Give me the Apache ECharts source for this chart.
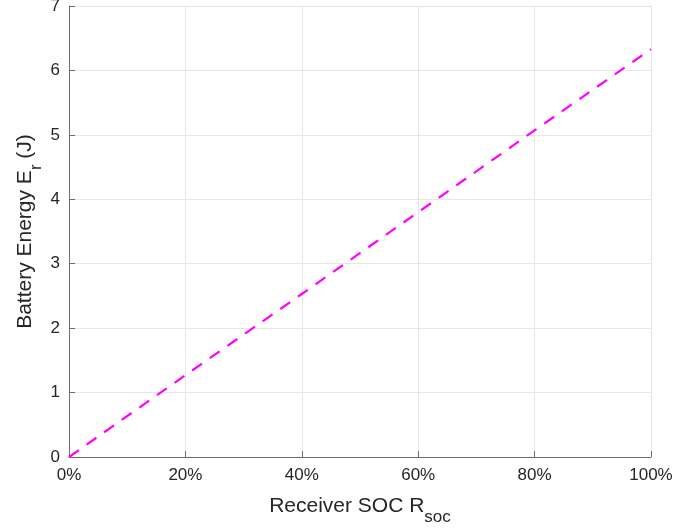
<!DOCTYPE html>
<html>
<head>
<meta charset="utf-8">
<script src="https://cdn.jsdelivr.net/npm/echarts@6/dist/echarts.min.js"></script>
<style>
html,body{margin:0;padding:0;background:#fff;}
#chart{width:673px;height:531px;}
</style>
</head>
<body>
<div id="chart"></div>
<script>
// Data
const socPercent = [0, 20, 40, 60, 80, 100];
const energyJ = [0, 1.27, 2.53, 3.80, 5.07, 6.33];
const xTicks = [0, 20, 40, 60, 80, 100];
const yTicks = [0, 1, 2, 3, 4, 5, 6, 7];

const FONT = "'Liberation Sans', Arial, Helvetica, sans-serif";
const TXT = '#262626';
const AXIS = '#6e6e6e';
const GRID = '#e6e6e6';

const richName = {
  n: {fontSize: 21, lineHeight: 24, color: TXT, fontFamily: FONT},
  s: {fontSize: 17, lineHeight: 17, padding: [22, 0, 0, 0], color: TXT, fontFamily: FONT}
};

const chart = echarts.init(document.getElementById('chart'), null, {renderer: 'canvas'});
chart.setOption({
  animation: false,
  backgroundColor: '#fff',
  grid: {left: 69, right: 22, top: 6, bottom: 74, containLabel: false, outerBoundsMode: 'none'},
  xAxis: {
    type: 'value',
    min: xTicks[0], max: xTicks[xTicks.length - 1], interval: 20,
    axisLine: {show: true, onZero: false, lineStyle: {color: AXIS, width: 1}},
    axisTick: {show: true, inside: true, length: 6, lineStyle: {color: AXIS}},
    splitLine: {show: true, lineStyle: {color: GRID, width: 1}},
    axisLabel: {formatter: '{value}%', color: TXT, fontSize: 17, fontFamily: FONT, margin: 10},
    name: '{n|Receiver SOC R}{s|soc}',
    nameLocation: 'middle',
    nameGap: 37,
    nameMoveOverlap: false,
    nameTextStyle: {color: TXT, fontFamily: FONT, rich: richName}
  },
  yAxis: {
    type: 'value',
    min: yTicks[0], max: yTicks[yTicks.length - 1], interval: 1,
    axisLine: {show: true, onZero: false, lineStyle: {color: AXIS, width: 1}},
    axisTick: {show: true, inside: true, length: 6, lineStyle: {color: AXIS}},
    splitLine: {show: true, lineStyle: {color: GRID, width: 1}},
    axisLabel: {color: TXT, fontSize: 17, fontFamily: FONT, margin: 9},
    name: '{n|Battery Energy E}{s|r}{n| (J)}',
    nameLocation: 'middle',
    nameGap: 32,
    nameMoveOverlap: false,
    nameTextStyle: {color: TXT, fontFamily: FONT, rich: richName}
  },
  series: [{
    type: 'line',
    data: socPercent.map((x, i) => [x, energyJ[i]]),
    showSymbol: false,
    symbol: 'none',
    lineStyle: {color: '#ff00ff', width: 2.2, type: [12, 9.5]}
  }]
});
</script>
</body>
</html>
